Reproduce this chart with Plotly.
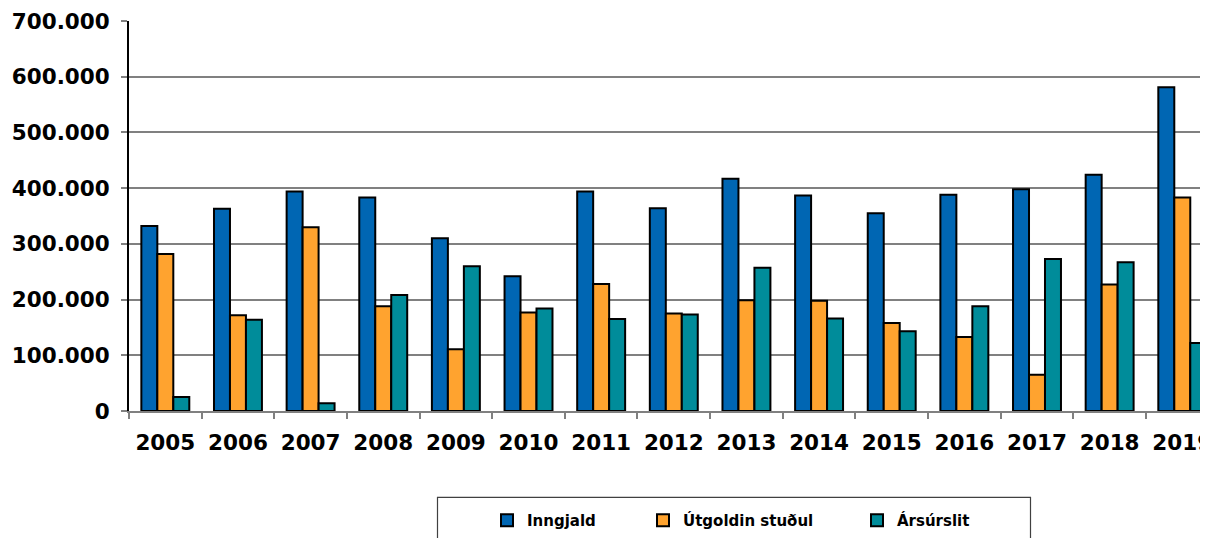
import plotly.graph_objects as go

years = ["2005", "2006", "2007", "2008", "2009", "2010", "2011", "2012",
         "2013", "2014", "2015", "2016", "2017", "2018", "2019"]
inngjald = [332000, 363000, 394000, 383000, 310000, 242000, 394000, 364000,
            417000, 387000, 355000, 388000, 398000, 424000, 581000]
utgoldin = [282000, 172000, 330000, 188000, 111000, 177000, 228000, 175000,
            199000, 198000, 158000, 133000, 65000, 227000, 383000]
arsurslit = [25000, 164000, 14000, 208000, 260000, 184000, 165000, 173000,
             257000, 166000, 143000, 188000, 273000, 267000, 122000]

names = ["Inngjald", "Útgoldin stuðul", "Ársúrslit"]
colors = ["#0066B3", "#FFA32F", "#008C9A"]
series = [inngjald, utgoldin, arsurslit]
legends = ["legend", "legend2", "legend3"]

# page body has an 8px margin; work in window pixels and convert
OFF = 8
W, H = 1208, 538 - OFF
L = 129 - OFF
T = 21 - OFF
BOTTOM = 410.7 - OFF
B = H - BOTTOM
plot_w = W - L
plot_h = BOTTOM - T
CAT_W = 72.64


def px_x(p):
    return (p - OFF - L) / plot_w


def px_y(p):
    return (BOTTOM - (p - OFF)) / plot_h


fig = go.Figure()
for name, col, vals, lg in zip(names, colors, series, legends):
    fig.add_trace(go.Bar(
        x=years, y=vals, name=name, legend=lg,
        marker=dict(color=col, line=dict(color="#000000", width=2)),
    ))

font_family = "DejaVu Sans"
legend_font = dict(family=font_family, size=15, color="#000000", weight="bold")
leg_common = dict(orientation="h", xanchor="left", yanchor="middle",
                  bgcolor="rgba(0,0,0,0)", borderwidth=0, font=legend_font,
                  itemwidth=30)
text_starts = [527, 683, 897]
legend_layout = {}
for lg, ts in zip(legends, text_starts):
    legend_layout[lg] = dict(x=px_x(ts - 40), y=px_y(520), **leg_common)

fig.update_layout(
    width=W, height=H,
    margin=dict(l=L, r=0, t=T, b=B, pad=0),
    paper_bgcolor="#FFFFFF", plot_bgcolor="#FFFFFF",
    separators=",.",
    barmode="group", bargap=0.34, bargroupgap=0,
    showlegend=True,
    font=dict(family=font_family, color="#000000"),
    **legend_layout,
    xaxis=dict(
        type="category", range=[-0.5, -0.5 + plot_w / CAT_W],
        showline=True, linecolor="#808080", linewidth=2,
        ticks="outside", tickson="boundaries", ticklen=6, tickcolor="#808080", tickwidth=1.5,
        tickfont=dict(family=font_family, size=21.5, color="#000000", weight="bold"),
        ticklabelstandoff=11,
        showgrid=False, zeroline=False,
    ),
    yaxis=dict(
        range=[0, 700000], dtick=100000, tick0=0, tickformat=",d",
        showline=True, linecolor="#000000", linewidth=2,
        ticks="outside", ticklen=6, tickcolor="#808080", tickwidth=1.5,
        tickfont=dict(family=font_family, size=21.5, color="#000000", weight="bold"),
        ticklabelstandoff=7,
        showgrid=True, gridcolor="#808080", gridwidth=1.5,
        zeroline=False,
    ),
    shapes=[dict(
        type="rect", xref="paper", yref="paper",
        x0=px_x(437.5), x1=px_x(1030.5), y0=px_y(497), y1=px_y(560),
        line=dict(color="#404040", width=1.2), fillcolor="rgba(0,0,0,0)",
    )],
)

fig.write_html("out.html")
